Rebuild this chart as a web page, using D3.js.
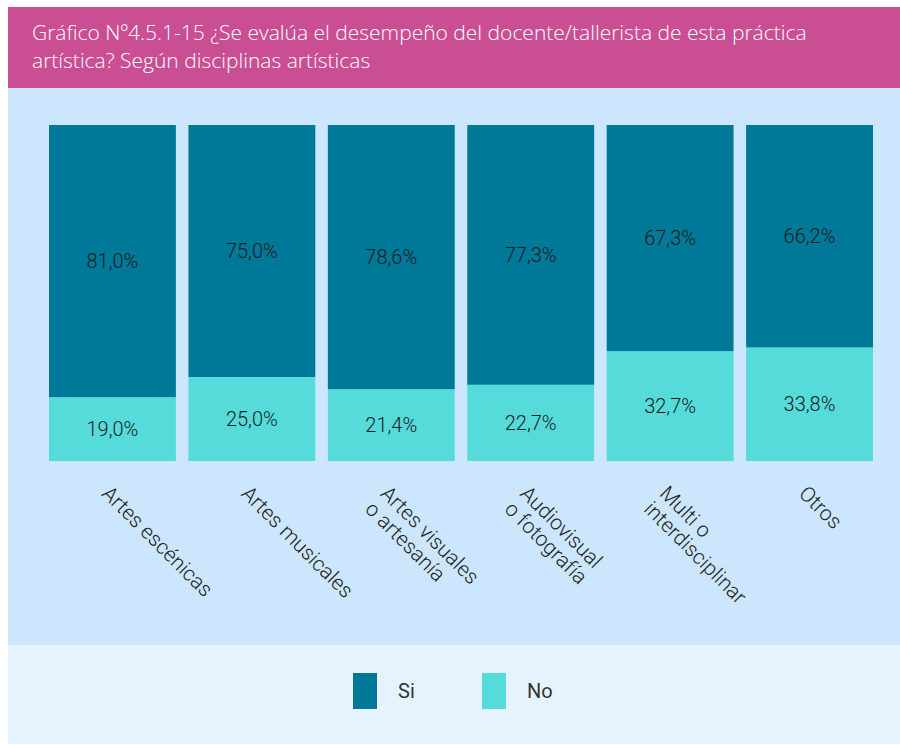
<!DOCTYPE html>
<html><head><meta charset="utf-8">
<script src="https://cdn.jsdelivr.net/npm/d3@7"></script>
<style>html,body{margin:0;padding:0;background:#fff;}svg{display:block;}</style>
</head><body>
<script>
const categories = [["Artes escénicas"],["Artes musicales"],["Artes visuales","o artesanía"],["Audiovisual","o fotografía"],["Multi o","interdisciplinar"],["Otros"]];
const seriesNames = ["Si","No"];
const siValues = [81.0, 75.0, 78.6, 77.3, 67.3, 66.2];
const noValues = [19.0, 25.0, 21.4, 22.7, 32.7, 33.8];
const colors = {Si:"#007898", No:"#55DBD9"};
const titleLines = ["Gráfico Nº4.5.1-15 ¿Se evalúa el desempeño del docente/tallerista de esta práctica","artística? Según disciplinas artísticas"];

const W=900,H=745;
const svg=d3.select("body").append("svg").attr("width",W).attr("height",H);
svg.append("rect").attr("x",8).attr("y",7).attr("width",W-8).attr("height",81).attr("fill","#C94E94");
svg.append("rect").attr("x",8).attr("y",88).attr("width",W-8).attr("height",557).attr("fill","#CCE7FD");
svg.append("rect").attr("x",8).attr("y",645).attr("width",W-8).attr("height",99).attr("fill","#E5F3FE");

svg.append("g").selectAll("text").data(titleLines).join("text")
  .attr("x",32).attr("y",(d,i)=>40+i*28)
  .attr("fill","#fff").style("font-family","'Open Sans'").style("font-weight",300).style("font-size","21px")
  .text(d=>d);

const idx=d3.range(categories.length);
const x=d3.scaleBand().domain(idx).range([49,873]).paddingInner(0.09).paddingOuter(0);
const y=d3.scaleLinear().domain([0,100]).range([461,125]);

const rows=idx.map(i=>({i,Si:siValues[i],No:noValues[i]}));
const stack=d3.stack().keys(["No","Si"])(rows);

const g=svg.append("g");
stack.forEach(layer=>{
  const key=layer.key;
  g.append("g").selectAll("rect").data(layer).join("rect")
    .attr("x",d=>x(d.data.i)).attr("width",x.bandwidth())
    .attr("y",d=>y(d[1])).attr("height",d=>y(d[0])-y(d[1]))
    .attr("fill",colors[key]);
  g.append("g").selectAll("text").data(layer).join("text")
    .attr("x",d=>x(d.data.i)+x.bandwidth()/2)
    .attr("y",d=>(y(d[0])+y(d[1]))/2)
    .attr("text-anchor","middle").attr("dominant-baseline","central")
    .attr("fill","#1b1b1b").style("font-family","Roboto").style("font-weight",300).style("font-size","20px")
    .text(d=>d3.format(".1f")(d.data[key]).replace(".",",")+"%");
});

// category labels
const lab=svg.append("g");
idx.forEach(i=>{
  const cx=x(i)+x.bandwidth()/2-1;
  const t=lab.append("text")
    .attr("transform",`translate(${cx},${484}) rotate(45)`)
    .attr("fill","#222").style("font-family","Roboto").style("font-weight",300).style("font-size","21px");
  categories[i].forEach((ln,j)=>{
    t.append("tspan").attr("x",0).attr("dy",j===0?"0.72em":"1.05em").text(ln);
  });
});

// legend
const leg=svg.append("g");
const legX=[353,482];
seriesNames.forEach((s,k)=>{
  leg.append("rect").attr("x",legX[k]).attr("y",673).attr("width",24).attr("height",36).attr("fill",colors[s]);
  leg.append("text").attr("x",legX[k]+45).attr("y",698).attr("fill","#333")
    .style("font-family","Roboto").style("font-size","20px").text(s);
});
</script>
</body></html>
